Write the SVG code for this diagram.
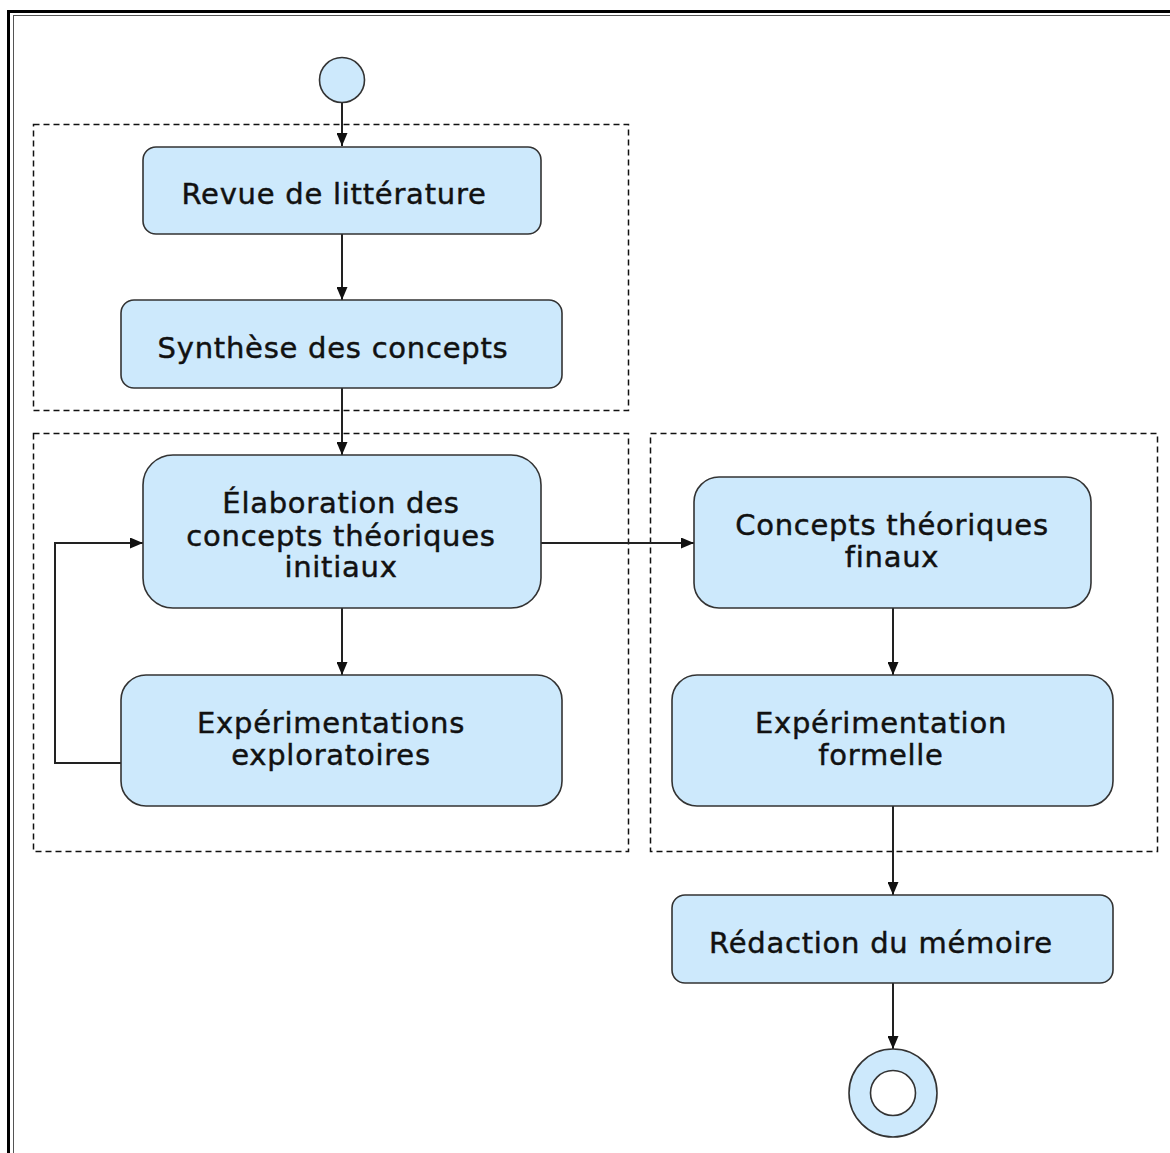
<svg xmlns="http://www.w3.org/2000/svg" width="1170" height="1153" viewBox="0 0 1170 1153">
  <style>
    .act { fill: #cde9fc; stroke: #333; stroke-width: 1.6; }
    .grp { fill: none; stroke: #111; stroke-width: 1.5; stroke-dasharray: 6 4; }
    .lbl { font-family: "DejaVu Sans", Verdana, sans-serif; font-size: 29px; letter-spacing: 0.75px; fill: #111; stroke: #111; stroke-width: 0.45; text-anchor: middle; }
    .edge { fill: none; stroke: #222; stroke-width: 2; }
  </style>
  <defs>
    <marker id="arrow" viewBox="0 0 13 11" refX="13" refY="5.5" markerWidth="13" markerHeight="11" markerUnits="userSpaceOnUse" orient="auto">
      <path d="M0,0 L13,5.5 L0,11 Z" fill="#111"/>
    </marker>
  </defs>

  <rect width="1170" height="1153" fill="#fff"/>

  <!-- outer double frame (continues past the right and bottom edges) -->
  <rect x="8.5" y="11.5" width="1200" height="1200" fill="none" stroke="#000" stroke-width="3"/>
  <rect x="13.5" y="15.5" width="1200" height="1200" fill="none" stroke="#555" stroke-width="1"/>

  <!-- dashed groupings -->
  <g id="groups">
    <rect class="grp" x="33.5" y="124.5" width="595" height="286"/>
    <rect class="grp" x="33.5" y="433.5" width="595" height="418"/>
    <rect class="grp" x="650.5" y="433.5" width="507" height="418"/>
  </g>

  <g id="connectors">
    <line class="edge" x1="342" y1="103" x2="342" y2="146" marker-end="url(#arrow)"/>
    <line class="edge" x1="342" y1="234" x2="342" y2="300" marker-end="url(#arrow)"/>
    <line class="edge" x1="342" y1="388" x2="342" y2="455" marker-end="url(#arrow)"/>
    <line class="edge" x1="342" y1="608" x2="342" y2="675" marker-end="url(#arrow)"/>
    <polyline class="edge" points="121,763 55,763 55,543 143,543" marker-end="url(#arrow)"/>
    <line class="edge" x1="541" y1="543" x2="694" y2="543" marker-end="url(#arrow)"/>
    <line class="edge" x1="893" y1="608" x2="893" y2="675" marker-end="url(#arrow)"/>
    <line class="edge" x1="893" y1="806" x2="893" y2="895" marker-end="url(#arrow)"/>
    <line class="edge" x1="893" y1="983" x2="893" y2="1049" marker-end="url(#arrow)"/>
  </g>

  <g id="start">
    <circle cx="342" cy="80" r="22.5" fill="#cde9fc" stroke="#333" stroke-width="1.6"/>
  </g>

  <g id="revue">
    <rect class="act" x="143" y="147" width="398" height="87" rx="13"/>
    <text class="lbl" x="334" y="204">Revue de littérature</text>
  </g>

  <g id="synthese">
    <rect class="act" x="121" y="300" width="441" height="88" rx="13"/>
    <text class="lbl" x="333" y="358">Synthèse des concepts</text>
  </g>

  <g id="elaboration">
    <rect class="act" x="143" y="455" width="398" height="153" rx="30"/>
    <text class="lbl" x="341" y="513">Élaboration des</text>
    <text class="lbl" x="341" y="546">concepts théoriques</text>
    <text class="lbl" x="341" y="577">initiaux</text>
  </g>

  <g id="exploratoires">
    <rect class="act" x="121" y="675" width="441" height="131" rx="25"/>
    <text class="lbl" x="331" y="733">Expérimentations</text>
    <text class="lbl" x="331" y="765">exploratoires</text>
  </g>

  <g id="finaux">
    <rect class="act" x="694" y="477" width="397" height="131" rx="25"/>
    <text class="lbl" x="892" y="535">Concepts théoriques</text>
    <text class="lbl" x="892" y="567">finaux</text>
  </g>

  <g id="formelle">
    <rect class="act" x="672" y="675" width="441" height="131" rx="25"/>
    <text class="lbl" x="881" y="733">Expérimentation</text>
    <text class="lbl" x="881" y="765">formelle</text>
  </g>

  <g id="redaction">
    <rect class="act" x="672" y="895" width="441" height="88" rx="13"/>
    <text class="lbl" x="881" y="953">Rédaction du mémoire</text>
  </g>

  <g id="end">
    <circle cx="893" cy="1093" r="44" fill="#cde9fc" stroke="#333" stroke-width="1.6"/>
    <circle cx="893" cy="1093" r="22.5" fill="#fff" stroke="#333" stroke-width="1.6"/>
  </g>
</svg>
